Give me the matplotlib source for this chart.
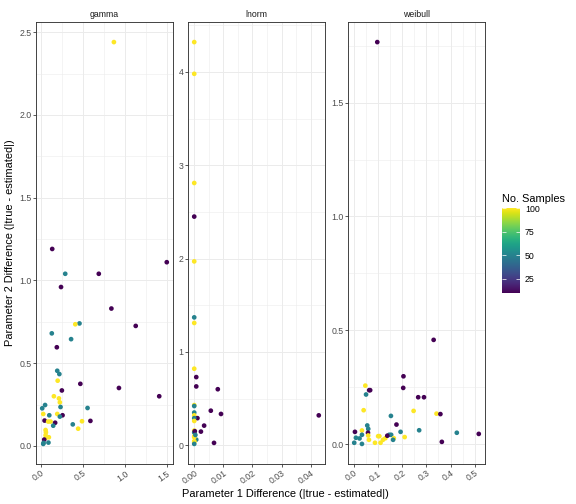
import numpy as np
import matplotlib
matplotlib.use("Agg")
import matplotlib.pyplot as plt
from matplotlib.ticker import MultipleLocator, FormatStrFormatter
from matplotlib.colors import Normalize

plt.rcParams['font.family'] = ['Liberation Sans', 'DejaVu Sans']

panels = ["gamma", "lnorm", "weibull"]

gamma_x = [0.87, 0.135, 0.29, 0.69, 1.5, 0.24, 0.84, 1.13, 0.46, 0.41, 0.13, 0.36, 0.19, 0.195, 0.22,
           0.2, 0.47, 0.93, 1.41, 0.25, 0.155, 0.215, 0.226, 0.05, 0.016, 0.234, 0.556, 0.028, 0.195,
           0.1, 0.258, 0.226, 0.044, 0.087, 0.115, 0.17, 0.49, 0.59, 0.147, 0.38, 0.444, 0.056, 0.06,
           0.056, 0.095, 0.063, 0.04, 0.032, 0.09, 0.028]
gamma_y = [2.44, 1.19, 1.04, 1.04, 1.11, 0.96, 0.83, 0.725, 0.74, 0.735, 0.68, 0.645, 0.596, 0.454, 0.434,
           0.394, 0.375, 0.35, 0.30, 0.335, 0.30, 0.287, 0.263, 0.247, 0.227, 0.235, 0.229, 0.193, 0.193,
           0.185, 0.185, 0.177, 0.153, 0.147, 0.147, 0.14, 0.149, 0.151, 0.122, 0.13, 0.104, 0.096, 0.082,
           0.064, 0.052, 0.05, 0.038, 0.018, 0.02, 0.012]
gamma_n = [100, 10, 50, 10, 10, 10, 10, 10, 50, 100, 50, 50, 10, 50, 50,
           100, 10, 10, 10, 10, 100, 100, 100, 50, 50, 50, 50, 100, 100,
           50, 10, 50, 10, 100, 100, 10, 100, 10, 50, 50, 100, 100, 100,
           100, 100, 100, 10, 50, 50, 50]

lnorm_x = [0.0, 0.0, 0.0, 0.0, 0.0, 0.0, 0.0, 0.0, 0.0007, 0.0007, 0.0081, 0.0, 0.0, 0.0, 0.0,
           0.0057, 0.0092, 0.0428, 0.0011, 0.0, 0.0, 0.0034, 0.0023, 0.0, 0.0, 0.0002, 0.0007,
           0.0, 0.0, 0.0, 0.0, 0.0, 0.0068, 0.0004]
lnorm_y = [4.32, 3.98, 2.81, 2.45, 1.97, 1.37, 1.31, 0.82, 0.73, 0.63, 0.60, 0.43, 0.42, 0.35, 0.32,
           0.37, 0.335, 0.32, 0.29, 0.29, 0.26, 0.21, 0.146, 0.157, 0.136, 0.15, 0.06,
           0.096, 0.086, 0.043, 0.032, 0.014, 0.025, 0.11]
lnorm_n = [100, 100, 100, 10, 100, 50, 100, 100, 10, 10, 10, 100, 50, 50, 100,
           10, 10, 10, 10, 50, 100, 10, 10, 100, 50, 10, 50,
           100, 100, 100, 100, 50, 10, 50]

weibull_x = [0.0965, 0.33, 0.205, 0.204, 0.047, 0.05, 0.063, 0.067, 0.266, 0.29, 0.04, 0.247, 0.342,
             0.358, 0.153, 0.176, 0.055, 0.059, 0.27, 0.193, 0.004, 0.033, 0.426, 0.517, 0.058, 0.059,
             0.008, 0.023, 0.033, 0.062, 0.001, 0.033, 0.087, 0.1, 0.105, 0.11, 0.12, 0.13, 0.146,
             0.154, 0.165, 0.162, 0.21, 0.364, 0.138]
weibull_y = [1.766, 0.458, 0.298, 0.247, 0.257, 0.218, 0.237, 0.237, 0.206, 0.206, 0.149, 0.146, 0.134,
             0.132, 0.124, 0.086, 0.082, 0.067, 0.061, 0.054, 0.054, 0.06, 0.05, 0.045, 0.05, 0.038,
             0.028, 0.025, 0.041, 0.019, 0.006, 0.001, 0.006, 0.035, 0.035, 0.006, 0.019, 0.026, 0.041,
             0.041, 0.026, 0.019, 0.031, 0.01, 0.037]
weibull_n = [10, 10, 10, 10, 100, 50, 10, 10, 10, 10, 100, 100, 100,
             10, 50, 10, 50, 50, 50, 50, 10, 100, 50, 10, 10, 100,
             50, 50, 50, 100, 50, 50, 100, 100, 100, 100, 100, 100, 50,
             50, 100, 50, 100, 10, 10]

n_min, n_max = 10, 100
cbar_ticks = [25, 50, 75, 100]

data = {
    "gamma": (gamma_x, gamma_y, gamma_n),
    "lnorm": (lnorm_x, lnorm_y, lnorm_n),
    "weibull": (weibull_x, weibull_y, weibull_n),
}
xmaj = {"gamma": 0.5, "lnorm": 0.01, "weibull": 0.1}
ymaj = {"gamma": 0.5, "lnorm": 1.0, "weibull": 0.5}
xfmt = {"gamma": "%.1f", "lnorm": "%.2f", "weibull": "%.1f"}
yfmt = {"gamma": "%.1f", "lnorm": "%.0f", "weibull": "%.1f"}

W, H = 576, 504
fig = plt.figure(figsize=(W / 72, H / 72), dpi=72)
norm = Normalize(vmin=n_min, vmax=n_max)
cmap = plt.get_cmap("viridis")

lefts = [36, 188, 348]
width = 137
top, bottom = 22, 464
border = "#333333"
grid = "#EBEBEB"

for name, left in zip(panels, lefts):
    ax = fig.add_axes([left / W, (H - bottom) / H, width / W, (bottom - top) / H])
    x, y, n = data[name]
    ax.scatter(x, y, c=n, cmap=cmap, norm=norm, s=22, linewidths=0, zorder=3)
    ax.margins(0.05)
    ax.xaxis.set_major_locator(MultipleLocator(xmaj[name]))
    ax.xaxis.set_minor_locator(MultipleLocator(xmaj[name] / 2))
    ax.yaxis.set_major_locator(MultipleLocator(ymaj[name]))
    ax.yaxis.set_minor_locator(MultipleLocator(ymaj[name] / 2))
    ax.xaxis.set_major_formatter(FormatStrFormatter(xfmt[name]))
    ax.yaxis.set_major_formatter(FormatStrFormatter(yfmt[name]))
    ax.grid(which="major", color=grid, linewidth=1.0, zorder=0)
    ax.grid(which="minor", color=grid, linewidth=0.5, zorder=0)
    ax.set_axisbelow(True)
    for sp in ax.spines.values():
        sp.set_color(border)
        sp.set_linewidth(0.9)
    ax.tick_params(which="major", length=2.75, width=0.8, color=border,
                   labelsize=8.8, labelcolor="#4D4D4D", pad=2)
    ax.tick_params(which="minor", length=0)
    for lab in ax.get_xticklabels():
        lab.set_rotation(35)
        lab.set_ha("right")
        lab.set_va("top")
        lab.set_rotation_mode("anchor")
    ax.set_title(name, fontsize=8.8, color="#1A1A1A", pad=5)

fig.text(285 / W, 1 - 494 / H, "Parameter 1 Difference (|true - estimated|)",
         ha="center", va="center", fontsize=11)
fig.text(10 / W, 1 - 243 / H, "Parameter 2 Difference (|true - estimated|)",
         ha="center", va="center", fontsize=11, rotation=90)

cax = fig.add_axes([502 / W, (H - 293) / H, 18 / W, 85 / H])
sm = matplotlib.cm.ScalarMappable(norm=norm, cmap=cmap)
cb = fig.colorbar(sm, cax=cax, ticks=cbar_ticks)
cb.outline.set_visible(False)
cax.tick_params(length=0, labelsize=8.8, labelcolor="black", pad=5)
cax.hlines(cbar_ticks, 0, 0.2, colors="white", linewidth=0.7)
cax.hlines(cbar_ticks, 0.8, 1.0, colors="white", linewidth=0.7)
fig.text(502 / W, 1 - 199 / H, "No. Samples", ha="left", va="center", fontsize=11)

fig.savefig("out.png", dpi=72)
